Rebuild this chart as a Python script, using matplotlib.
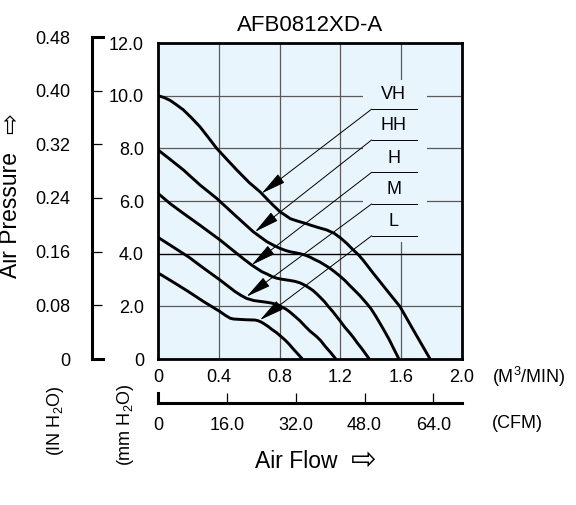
import matplotlib
matplotlib.use('Agg')
import matplotlib.pyplot as plt
import matplotlib.patches as mpatches

plt.rcParams['font.family'] = ['Liberation Sans', 'DejaVu Sans']
plt.rcParams['mathtext.fontset'] = 'custom'
plt.rcParams['mathtext.rm'] = 'Liberation Sans'
plt.rcParams['mathtext.it'] = 'Liberation Sans'
plt.rcParams['mathtext.default'] = 'regular'

# P-Q curves, flow in m3/min, pressure in mm H2O
vh_flow = [0, 0.04, 0.08, 0.12, 0.167, 0.22, 0.276, 0.33, 0.386, 0.45, 0.518, 0.6, 0.671, 0.75, 0.803,
           0.84, 0.87, 0.9, 0.934, 0.97, 1.0, 1.05, 1.11, 1.16, 1.2, 1.24, 1.285, 1.32, 1.35, 1.417,
           1.5, 1.592, 1.68, 1.79]
vh_pres = [10.0, 9.93, 9.82, 9.66, 9.46, 9.16, 8.82, 8.42, 8.0, 7.6, 7.18, 6.7, 6.35, 5.88, 5.59,
           5.45, 5.33, 5.27, 5.21, 5.15, 5.09, 5.0, 4.90, 4.77, 4.6, 4.4, 4.14, 3.95, 3.75, 3.25,
           2.65, 1.99, 1.10, 0.0]

hh_flow = [0, 0.08, 0.167, 0.276, 0.386, 0.518, 0.627, 0.715, 0.76, 0.803, 0.84, 0.87, 0.9, 0.934,
           0.97, 1.0, 1.03, 1.066, 1.1, 1.13, 1.16, 1.197, 1.23, 1.26, 1.3, 1.329, 1.37, 1.4, 1.43,
           1.46, 1.49, 1.52, 1.55, 1.585]
hh_pres = [7.94, 7.58, 7.18, 6.61, 6.10, 5.40, 4.83, 4.46, 4.32, 4.20, 4.12, 4.07, 4.04, 4.0,
           3.94, 3.87, 3.78, 3.68, 3.56, 3.45, 3.32, 3.15, 2.98, 2.8, 2.57, 2.40, 2.13, 1.92, 1.65,
           1.36, 1.06, 0.75, 0.4, 0.0]

h_flow = [0, 0.08, 0.167, 0.276, 0.408, 0.52, 0.57, 0.616, 0.65, 0.682, 0.72, 0.75, 0.78, 0.813,
          0.86, 0.9, 0.935, 0.967, 0.995, 1.02, 1.045, 1.066, 1.095, 1.12, 1.15, 1.176, 1.2, 1.23,
          1.26, 1.285, 1.31, 1.34, 1.365, 1.39]
h_pres = [6.29, 5.9, 5.53, 5.08, 4.52, 4.0, 3.77, 3.57, 3.44, 3.32, 3.22, 3.13, 3.07, 3.03,
          2.99, 2.95, 2.89, 2.8, 2.7, 2.6, 2.47, 2.35, 2.18, 2.0, 1.8, 1.61, 1.43, 1.2,
          1.0, 0.82, 0.62, 0.4, 0.2, 0.0]

m_flow = [0, 0.1, 0.2, 0.3, 0.408, 0.507, 0.545, 0.583, 0.63, 0.682, 0.72, 0.75, 0.792, 0.81, 0.84,
          0.86, 0.879, 0.905, 0.934, 0.967, 1.0, 1.044, 1.07, 1.1, 1.135, 1.17]
m_pres = [4.62, 4.25, 3.88, 3.45, 3.0, 2.56, 2.42, 2.30, 2.22, 2.18, 2.15, 2.12, 2.05, 1.99, 1.9,
          1.82, 1.73, 1.6, 1.45, 1.25, 1.06, 0.85, 0.7, 0.48, 0.25, 0.0]

l_flow = [0, 0.1, 0.2, 0.3, 0.408, 0.44, 0.474, 0.495, 0.52, 0.58, 0.638, 0.66, 0.68, 0.70, 0.726,
          0.75, 0.78, 0.81, 0.836, 0.86, 0.89, 0.92, 0.95]
l_pres = [3.27, 2.92, 2.56, 2.18, 1.80, 1.67, 1.55, 1.52, 1.51, 1.49, 1.48, 1.45, 1.40, 1.33, 1.23,
          1.12, 1.0, 0.85, 0.72, 0.58, 0.38, 0.19, 0.0]

curve_names = ['VH', 'HH', 'H', 'M', 'L']
# where each leader arrow points on its curve
arrow_tips = [(0.682, 6.29), (0.638, 4.83), (0.616, 3.57), (0.583, 2.37), (0.671, 1.48)]
label_y = [10.03, 8.85, 7.62, 6.42, 5.21]
leader_y = [9.49, 8.32, 7.09, 5.89, 4.68]

flow_ticks = [0, 0.4, 0.8, 1.2, 1.6, 2.0]
flow_labels = ['0', '0.4', '0.8', '1.2', '1.6', '2.0']
mm_ticks = [0, 2, 4, 6, 8, 10, 12]
mm_labels = ['0', '2.0', '4.0', '6.0', '8.0', '10.0', '12.0']
in_ticks = [0, 0.08, 0.16, 0.24, 0.32, 0.40, 0.48]
in_labels = ['0', '0.08', '0.16', '0.24', '0.32', '0.40', '0.48']
cfm_ticks = [0, 16, 32, 48, 64]
cfm_labels = ['0', '16.0', '32.0', '48.0', '64.0']

bg = '#e9f5fd'
W, H = 576, 505

fig = plt.figure(figsize=(5.76, 5.05), dpi=100)

# main chart
ax = fig.add_axes([158/W, 146/H, 304/W, 316/H], facecolor=bg)
ax.set_xlim(0, 2.0)
ax.set_ylim(0, 12)
ax.set_xticks(flow_ticks)
ax.set_xticklabels(flow_labels, fontsize=13)
ax.set_yticks(mm_ticks)
ax.set_yticklabels(mm_labels, fontsize=13)
ax.tick_params(axis='x', length=0, pad=7)
ax.tick_params(axis='y', length=0, pad=10)
ax.set_axisbelow(True)
ax.grid(True, color='#5a5a5a', lw=0.9)
ax.axhline(4.0, color='black', lw=0.9, zorder=0.6)
for s in ax.spines.values():
    s.set_linewidth(2.0)
ax.set_title('AFB0812XD-A', fontsize=16, pad=9)

# blank area behind the curve labels (grid is cut there)
ax.add_patch(mpatches.Rectangle((1.349, 4.44), 0.421, 6.16, facecolor=bg,
                                edgecolor='none', zorder=1))

curves = [(vh_flow, vh_pres), (hh_flow, hh_pres), (h_flow, h_pres),
          (m_flow, m_pres), (l_flow, l_pres)]
for fl, pr in curves:
    ax.plot(fl, pr, color='black', lw=2.1, zorder=3, solid_joinstyle='round',
            solid_capstyle='butt')

for name, tip, ly, lny in zip(curve_names, arrow_tips, label_y, leader_y):
    ax.text(1.55, ly, name, ha='center', va='center', fontsize=13, zorder=4)
    ax.plot([1.406, 1.702], [lny, lny], color='black', lw=0.7, zorder=4)
    ax.annotate('', xy=tip, xytext=(1.406, lny),
                arrowprops=dict(arrowstyle='-|>,head_length=1.3,head_width=0.28',
                                color='black', lw=0.7, mutation_scale=12,
                                shrinkA=0, shrinkB=0), zorder=4)

# mm H2O bracket
axm = fig.add_axes([92/W, 146/H, 11/W, 322/H], facecolor='none')
axm.set_ylim(0, 12)
axm.set_yticks(mm_ticks)
axm.set_xticks([])
axm.tick_params(axis='y', direction='in', length=7.5, width=0.9, labelleft=False)
axm.spines['right'].set_visible(False)
for k in ['left', 'top', 'bottom']:
    axm.spines[k].set_linewidth(2.2)
    axm.spines[k].set_capstyle('projecting')

# IN H2O labels
axi = fig.add_axes([92/W, 146/H, 11/W, 322/H], facecolor='none')
axi.set_ylim(0, 0.48)
axi.set_yticks(in_ticks)
axi.set_yticklabels(in_labels, fontsize=13)
axi.set_xticks([])
axi.tick_params(axis='y', length=0, pad=15.5)
for s in axi.spines.values():
    s.set_visible(False)

# CFM bracket
axc = fig.add_axes([158/W, 102/H, 304/W, 10/H], facecolor='none')
axc.set_xlim(0, 2.0 * 35.3147)
axc.set_ylim(0, 1)
axc.set_xticks(cfm_ticks)
axc.set_xticklabels(cfm_labels, fontsize=13)
axc.set_yticks([])
axc.tick_params(axis='x', direction='in', length=7.5, width=0.9, pad=10)
axc.spines['top'].set_visible(False)
axc.spines['right'].set_visible(False)
for k in ['left', 'bottom']:
    axc.spines[k].set_linewidth(2.2)
    axc.spines[k].set_capstyle('projecting')

fig.text(492/W, 1 - 377/H, '(M$^3$/MIN)', ha='left', va='center', fontsize=13)
fig.text(492/W, 1 - 423/H, '(CFM)', ha='left', va='center', fontsize=13)
fig.text(296/W, 1 - 461/H, 'Air Flow', ha='center', va='center', fontsize=16.5)
fig.text(364/W, 1 - 460/H, '\u21e8', ha='center', va='center', fontsize=22,
         family='DejaVu Sans')
fig.text(11/W, 1 - 215/H, 'Air Pressure', ha='center', va='center',
         rotation=90, fontsize=16.5)
fig.text(11/W, 1 - 123/H, '\u21e8', ha='center', va='center', fontsize=18,
         rotation=90, family='DejaVu Sans')
fig.text(56/W, 1 - 421/H, '(IN H$_2$O)', ha='center', va='center', rotation=90, fontsize=13)
fig.text(126/W, 1 - 425/H, '(mm H$_2$O)', ha='center', va='center', rotation=90, fontsize=13)

fig.savefig('out.png', dpi=100)
